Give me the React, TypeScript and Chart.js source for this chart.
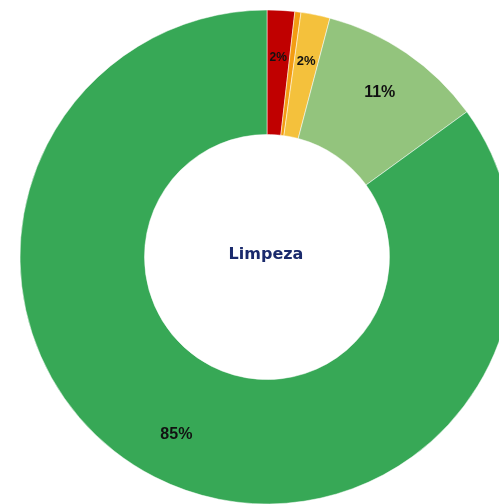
import React, { useEffect, useRef } from "react";
import { Chart, registerables } from "chart.js";

Chart.register(...registerables);

const categories = ["Péssimo", "Ruim", "Regular", "Bom", "Ótimo"];
const values = [1.8, 0.4, 1.9, 10.9, 85.0];
const labelTexts = ["2%", "", "2%", "11%", "85%"];
const labelSizes = [12, 12, 13, 16, 16];
const colors = ["#c00000", "#f39c12", "#f4c13c", "#93c47d", "#37a856"];
const centerTitle = "Limpeza";

const labelPlugin = {
  id: "sliceLabels",
  afterDatasetsDraw(chart: any) {
    const ctx = chart.ctx;
    const meta = chart.getDatasetMeta(0);
    ctx.save();
    ctx.textAlign = "center";
    ctx.textBaseline = "middle";
    meta.data.forEach((arc: any, i: number) => {
      const text = labelTexts[i];
      if (!text) return;
      const p = arc.getProps(["x", "y", "startAngle", "endAngle", "innerRadius", "outerRadius"], true);
      const mid = (p.startAngle + p.endAngle) / 2;
      const r = p.innerRadius + (p.outerRadius - p.innerRadius) * 0.62;
      ctx.font = `bold ${labelSizes[i]}px "Liberation Sans", Arial, sans-serif`;
      ctx.fillStyle = "#111111";
      ctx.fillText(text, p.x + Math.cos(mid) * r, p.y + Math.sin(mid) * r);
    });
    const a0 = meta.data[0].getProps(["x", "y"], true);
    ctx.font = 'bold 16px "DejaVu Sans", Verdana, sans-serif';
    ctx.fillStyle = "#1a2a6c";
    ctx.fillText(centerTitle, a0.x - 1, a0.y - 2);
    ctx.restore();
  },
};

export default function App() {
  const ref = useRef<HTMLCanvasElement | null>(null);
  useEffect(() => {
    if (!ref.current) return;
    const chart = new Chart(ref.current, {
      type: "doughnut",
      data: {
        labels: categories,
        datasets: [
          {
            data: values,
            backgroundColor: colors,
            borderColor: "#ffffff",
            borderWidth: 0.5,
          },
        ],
      },
      options: {
        responsive: false,
        animation: false,
        radius: 247,
        cutout: "49.6%",
        layout: { padding: { left: 35, right: 0, top: 10, bottom: 0 } },
        plugins: {
          legend: { display: false },
          tooltip: { enabled: false },
        },
      },
      plugins: [labelPlugin],
    });
    return () => chart.destroy();
  }, []);
  return (
    <div style={{ position: "fixed", left: 0, top: 0, width: 499, height: 504, overflow: "hidden", background: "#fff" }}>
      <canvas ref={ref} width={499} height={504} style={{ display: "block", width: 499, height: 504 }} />
    </div>
  );
}
